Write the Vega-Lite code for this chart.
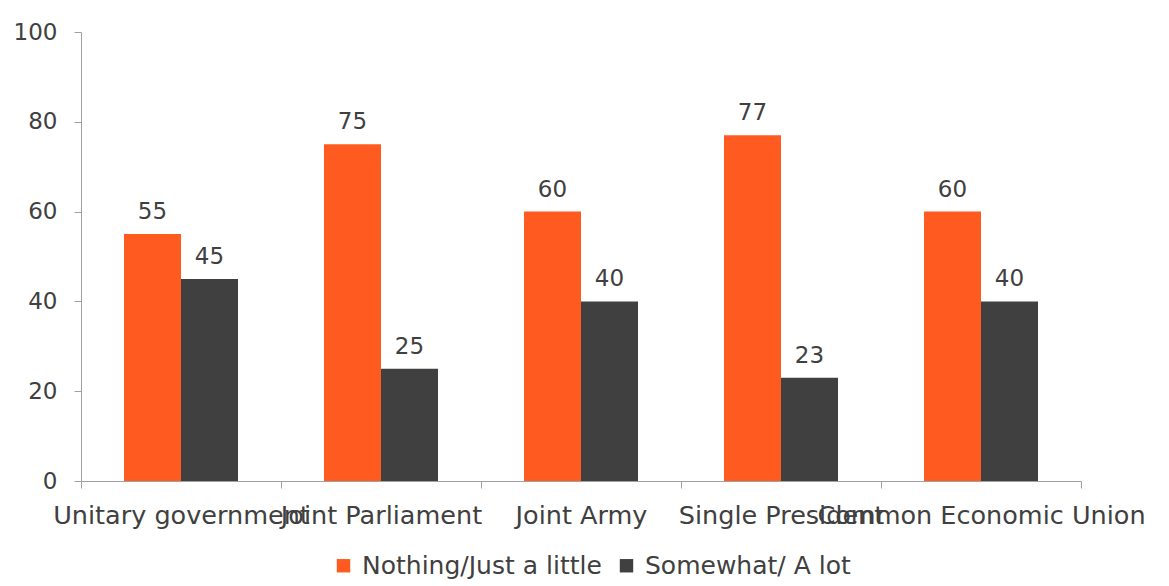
{
  "$schema": "https://vega.github.io/schema/vega-lite/v6.json",
  "width": 1000,
  "height": 449,
  "autosize": {"type": "none"},
  "padding": {"left": 81, "top": 32, "right": 88, "bottom": 105},
  "background": "white",
  "config": {"view": {"stroke": null}, "font": "DejaVu Sans"},
  "data": {
    "values": [
      {"item": "Unitary government", "series": "Nothing/Just a little", "value": 55},
      {"item": "Unitary government", "series": "Somewhat/ A lot", "value": 45},
      {"item": "Joint Parliament", "series": "Nothing/Just a little", "value": 75},
      {"item": "Joint Parliament", "series": "Somewhat/ A lot", "value": 25},
      {"item": "Joint Army", "series": "Nothing/Just a little", "value": 60},
      {"item": "Joint Army", "series": "Somewhat/ A lot", "value": 40},
      {"item": "Single President", "series": "Nothing/Just a little", "value": 77},
      {"item": "Single President", "series": "Somewhat/ A lot", "value": 23},
      {"item": "Common Economic Union", "series": "Nothing/Just a little", "value": 60},
      {"item": "Common Economic Union", "series": "Somewhat/ A lot", "value": 40}
    ]
  },
  "encoding": {
    "x": {
      "field": "item",
      "type": "nominal",
      "sort": null,
      "scale": {"paddingInner": 0, "paddingOuter": 0},
      "axis": {
        "title": null,
        "labelAngle": 0,
        "tickBand": "extent",
        "tickSize": 7,
        "domainColor": "#a0a0a0",
        "tickColor": "#a0a0a0",
        "labelFontSize": 25.5,
        "labelColor": "#404040",
        "labelPadding": 15,
        "labelOverlap": false,
        "labelBound": false,
        "labelLimit": 0
      }
    },
    "xOffset": {
      "field": "series",
      "sort": ["Nothing/Just a little", "Somewhat/ A lot"],
      "scale": {"paddingInner": 0, "paddingOuter": 0.754}
    },
    "y": {
      "field": "value",
      "type": "quantitative",
      "scale": {"domain": [0, 100]},
      "axis": {
        "title": null,
        "values": [0, 20, 40, 60, 80, 100],
        "grid": false,
        "tickSize": 7,
        "domainColor": "#a0a0a0",
        "tickColor": "#a0a0a0",
        "labelFontSize": 23,
        "labelColor": "#404040",
        "labelPadding": 17
      }
    }
  },
  "layer": [
    {
      "mark": {"type": "bar"},
      "encoding": {
        "color": {
          "field": "series",
          "type": "nominal",
          "sort": ["Nothing/Just a little", "Somewhat/ A lot"],
          "scale": {"range": ["#ff5a1f", "#404040"]},
          "legend": {
            "title": null,
            "orient": "none",
            "direction": "horizontal",
            "legendX": 250,
            "legendY": 521,
            "symbolType": "square",
            "symbolSize": 180,
            "symbolStrokeWidth": 0,
            "labelFontSize": 25,
            "labelColor": "#404040",
            "labelOffset": 6,
            "columnPadding": 12,
            "labelLimit": 0
          }
        }
      }
    },
    {
      "mark": {"type": "text", "dy": -10, "baseline": "bottom", "fontSize": 23, "color": "#404040"},
      "encoding": {"text": {"field": "value", "type": "quantitative"}}
    }
  ]
}
